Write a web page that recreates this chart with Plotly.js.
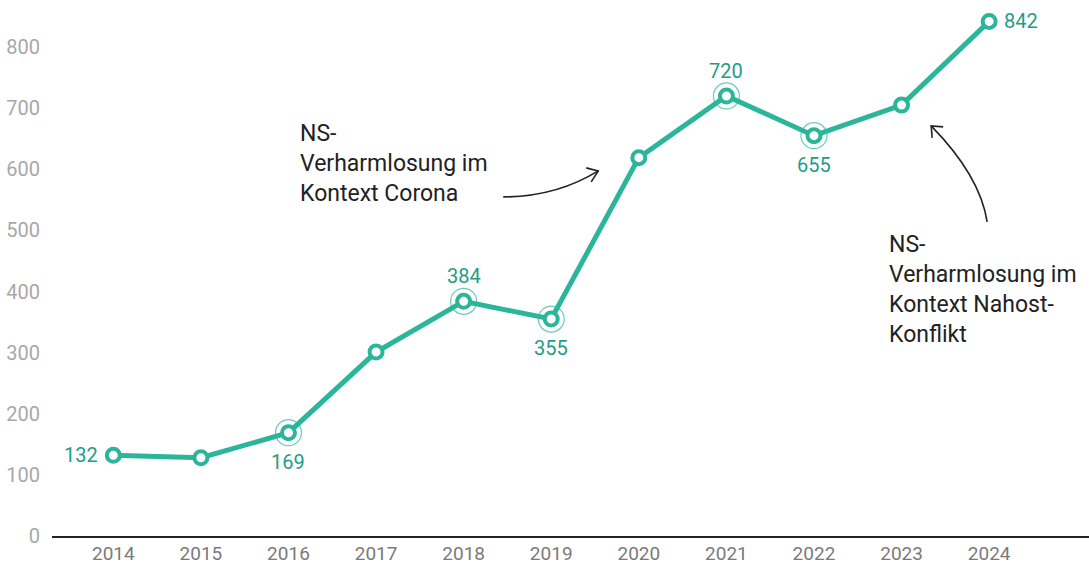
<!DOCTYPE html>
<html>
<head>
<meta charset="utf-8">
<script src="https://cdn.plot.ly/plotly-3.0.1.min.js"></script>
<style>
  html, body { margin: 0; padding: 0; background: #fff; }
  #chart { width: 1089px; height: 566px; }
</style>
</head>
<body>
<div id="chart"></div>
<script>
var years = [2014, 2015, 2016, 2017, 2018, 2019, 2020, 2021, 2022, 2023, 2024];
var cases = [132, 128, 169, 301, 384, 355, 619, 720, 655, 705, 842];
// where each value label sits: l = left, r = right, t = above, b = below, '' = none
var labelSide = ['l', '', 'b', '', 't', 'b', '', 't', 'b', '', 'r'];
var haloYears = [2016, 2018, 2019, 2021, 2022];
var yTicks = [0, 100, 200, 300, 400, 500, 600, 700, 800];

var teal = '#2bb59a';
var tealText = '#1f9c88';

var haloY = haloYears.map(y => cases[years.indexOf(y)]);

var halo = {
  x: haloYears,
  y: haloY,
  type: 'scatter',
  mode: 'markers',
  hoverinfo: 'skip',
  marker: { symbol: 'circle-open', size: 26, color: 'rgba(43,181,154,0.7)', line: { width: 1.2 } }
};

var trace = {
  x: years,
  y: cases,
  type: 'scatter',
  mode: 'lines+markers',
  line: { color: teal, width: 5 },
  marker: { size: 13, color: '#ffffff', line: { color: teal, width: 4 } }
};

// value labels
var valueLabels = [];
years.forEach((yr, i) => {
  var s = labelSide[i];
  if (!s) return;
  var a = {
    xref: 'x', yref: 'y', x: yr, y: cases[i], text: String(cases[i]),
    showarrow: false, font: { family: 'Roboto, sans-serif', size: 20, color: tealText }
  };
  if (s === 'l') { a.xanchor = 'right'; a.xshift = -13; }
  if (s === 'r') { a.xanchor = 'left'; a.xshift = 13; }
  if (s === 't') { a.yanchor = 'bottom'; a.yshift = 11; }
  if (s === 'b') { a.yanchor = 'top'; a.yshift = -15; }
  valueLabels.push(a);
});

// curved arrows, pixel positions converted to data units
function px(x) { return 2014 + (x - 113) / 87.6; }
function py(y) { return (536 - y) / 0.611; }
function pt(x, y) { return px(x) + ',' + py(y); }

var arrowStyle = { color: '#222222', width: 1.6 };
var noteFont = { family: 'Roboto, sans-serif', size: 23, color: '#222222' };

var layout = {
  width: 1089,
  height: 566,
  margin: { l: 52, r: 0, t: 0, b: 30 },
  paper_bgcolor: '#ffffff',
  plot_bgcolor: '#ffffff',
  showlegend: false,
  font: { family: 'Roboto, sans-serif' },
  xaxis: {
    range: [2013.3, 2025.14],
    tickvals: years,
    ticktext: years.map(String),
    showgrid: false,
    zeroline: false,
    showline: true,
    linecolor: '#222222',
    linewidth: 1.5,
    ticks: '',
    tickfont: { size: 19, color: '#7a7a7a' },
    fixedrange: true
  },
  yaxis: {
    range: [0, 877],
    tickvals: yTicks,
    showgrid: false,
    zeroline: false,
    showline: false,
    ticks: 'outside',
    ticklen: 7,
    tickcolor: 'rgba(0,0,0,0)',
    tickfont: { size: 20, color: '#a8a8a8' },
    fixedrange: true
  },
  shapes: [
    { type: 'path', xref: 'x', yref: 'y', path: 'M' + pt(503, 197) + ' Q' + pt(556, 197) + ' ' + pt(598, 171), line: arrowStyle },
    { type: 'path', xref: 'x', yref: 'y', path: 'M' + pt(586, 168) + ' L' + pt(598, 171) + ' L' + pt(591, 182), line: arrowStyle },
    { type: 'path', xref: 'x', yref: 'y', path: 'M' + pt(987, 222) + ' Q' + pt(980, 176) + ' ' + pt(931, 126), line: arrowStyle },
    { type: 'path', xref: 'x', yref: 'y', path: 'M' + pt(943, 127) + ' L' + pt(931, 126) + ' L' + pt(932, 138), line: arrowStyle }
  ],
  annotations: [
    {
      xref: 'x', yref: 'y', x: px(298), y: py(118),
      xanchor: 'left', yanchor: 'top', align: 'left', showarrow: false,
      text: 'NS-<br>Verharmlosung im<br>Kontext Corona',
      font: noteFont
    },
    {
      xref: 'x', yref: 'y', x: px(887), y: py(229),
      xanchor: 'left', yanchor: 'top', align: 'left', showarrow: false,
      text: 'NS-<br>Verharmlosung im<br>Kontext Nahost-<br>Konflikt',
      font: noteFont
    }
  ].concat(valueLabels)
};

Plotly.newPlot('chart', [halo, trace], layout, { displayModeBar: false, staticPlot: true });
</script>
</body>
</html>
